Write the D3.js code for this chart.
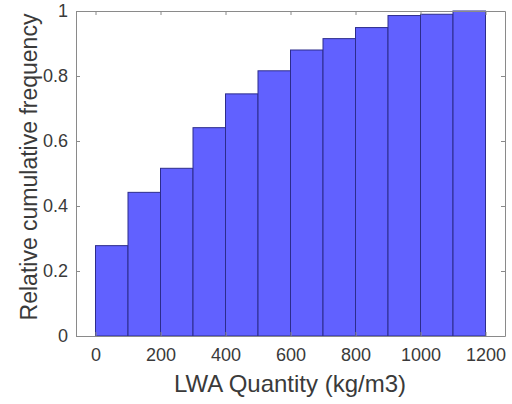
<!DOCTYPE html>
<html>
  <head>
    <title> Cumulative frequency </title>
    <script src = "https://d3js.org/d3.v7.min.js" charset = "utf-8"></script>
    <style>
      body { margin: 0; background: #fff; }
      text { font-family: "Liberation Sans", Arial, sans-serif; }
    </style>
  </head>

  <body>
    <script>
      // bin edges (kg/m3) and relative cumulative frequency per bin
      var binStart = [0, 100, 200, 300, 400, 500, 600, 700, 800, 900, 1000, 1100];
      var binEnd   = [100, 200, 300, 400, 500, 600, 700, 800, 900, 1000, 1100, 1200];
      var cumFreq  = [0.278, 0.442, 0.516, 0.641, 0.745, 0.816, 0.880, 0.915, 0.949, 0.986, 0.990, 1.0];
      var xTicks = [0, 200, 400, 600, 800, 1000, 1200];
      var yTicks = [0, 0.2, 0.4, 0.6, 0.8, 1];

      var width = 512;
      var height = 404;
      var mLeft = 76, mRight = 505, mTop = 11, mBottom = 336;

      var svg = d3.select("body")
        .append("svg")
        .attr("width", width)
        .attr("height", height);

      var x = d3.scaleLinear().domain([-60, 1260]).range([mLeft, mRight]);
      var y = d3.scaleLinear().domain([0, 1]).range([mBottom, mTop]);

      //bars
      svg.append("g").selectAll("rect")
        .data(cumFreq)
        .enter()
        .append("rect")
        .attr("x", function(d, i){ return x(binStart[i]); })
        .attr("width", function(d, i){ return x(binEnd[i]) - x(binStart[i]); })
        .attr("y", function(d){ return y(d); })
        .attr("height", function(d){ return y(0) - y(d); })
        .attr("fill", "#6161ff")
        .attr("stroke", "#2c2c8c")
        .attr("stroke-width", 1);

      var axisColor = "#8a8a8a";
      var textColor = "#3a3a3a";

      function style(g){
        g.select(".domain").attr("stroke", axisColor);
        g.selectAll(".tick line").attr("stroke", axisColor);
        g.selectAll(".tick text").attr("fill", textColor).attr("font-size", "18px");
      }

      // bottom and left axes, ticks pointing inward
      svg.append("g")
        .attr("transform", "translate(0," + mBottom + ")")
        .call(d3.axisBottom(x).tickValues(xTicks).tickFormat(d3.format("d")).tickSizeInner(-4).tickSizeOuter(0).tickPadding(12))
        .call(style);

      svg.append("g")
        .attr("transform", "translate(" + mLeft + ",0)")
        .call(d3.axisLeft(y).tickValues(yTicks).tickFormat(d3.format("~g")).tickSizeInner(-4).tickSizeOuter(0).tickPadding(8))
        .call(style);

      // box: top and right
      svg.append("g")
        .attr("transform", "translate(0," + mTop + ")")
        .call(d3.axisTop(x).tickValues(xTicks).tickSizeInner(-4).tickSizeOuter(0).tickFormat(""))
        .call(style);

      svg.append("g")
        .attr("transform", "translate(" + mRight + ",0)")
        .call(d3.axisRight(y).tickValues(yTicks).tickSizeInner(-4).tickSizeOuter(0).tickFormat(""))
        .call(style);

      // labels
      svg.append("text")
        .attr("x", 290)
        .attr("y", 392)
        .attr("text-anchor", "middle")
        .attr("font-size", "24px")
        .attr("fill", textColor)
        .text("LWA Quantity (kg/m3)");

      svg.append("text")
        .attr("transform", "translate(37," + 167 + ") rotate(-90)")
        .attr("text-anchor", "middle")
        .attr("font-size", "23px")
        .attr("fill", textColor)
        .text("Relative cumulative frequency");
    </script>
  </body>
</html>
